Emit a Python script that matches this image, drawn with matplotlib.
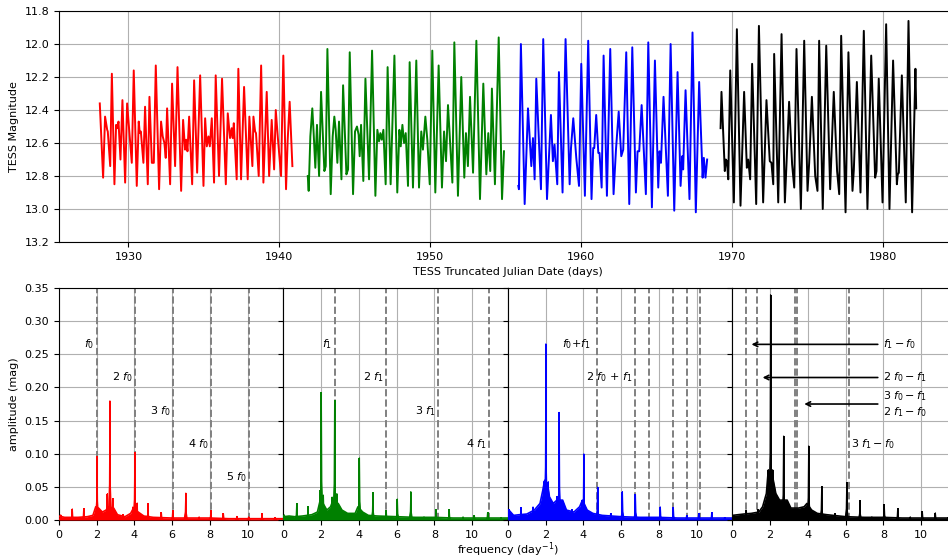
import numpy as np
import matplotlib.pyplot as plt

# ---- light curve: extrema ----
red_t = [1928.10, 1928.32, 1928.45, 1928.59, 1928.63, 1928.79, 1928.90, 1929.07, 1929.18, 1929.25,
         1929.34, 1929.47, 1929.60, 1929.78, 1929.91, 1930.22, 1930.35, 1930.55, 1930.68, 1930.75,
         1930.82, 1930.99, 1931.10, 1931.28, 1931.39, 1931.55, 1931.68, 1931.81, 1932.03, 1932.16,
         1932.27, 1932.38, 1932.47, 1932.56, 1932.76, 1932.89, 1933.09, 1933.25, 1933.49, 1933.62,
         1933.75, 1933.82, 1933.91, 1934.02, 1934.22, 1934.35, 1934.55, 1934.75, 1934.97, 1935.08,
         1935.19, 1935.30, 1935.39, 1935.52, 1935.67, 1935.78, 1936.00, 1936.20, 1936.45, 1936.58,
         1936.73, 1936.84, 1936.91, 1936.98, 1937.17, 1937.28, 1937.46, 1937.66, 1937.90, 1938.01,
         1938.21, 1938.28, 1938.39, 1938.45, 1938.63, 1938.79, 1938.94, 1939.16, 1939.32, 1939.49,
         1939.65, 1939.76, 1939.89, 1940.11, 1940.26, 1940.44, 1940.55, 1940.68, 1940.86]
red_m = [12.36, 12.81, 12.44, 12.52, 12.53, 12.74, 12.18, 12.85, 12.49, 12.51,
         12.47, 12.70, 12.34, 12.84, 12.36, 12.72, 12.16, 12.86, 12.47, 12.54,
         12.53, 12.72, 12.38, 12.85, 12.32, 12.72, 12.72, 12.13, 12.88, 12.47,
         12.56, 12.60, 12.69, 12.39, 12.85, 12.24, 12.74, 12.14, 12.89, 12.46,
         12.64, 12.58, 12.65, 12.44, 12.85, 12.22, 12.78, 12.19, 12.86, 12.45,
         12.62, 12.56, 12.62, 12.45, 12.84, 12.19, 12.80, 12.21, 12.85, 12.42,
         12.57, 12.51, 12.57, 12.48, 12.82, 12.15, 12.82, 12.26, 12.82, 12.44,
         12.74, 12.44, 12.53, 12.54, 12.80, 12.13, 12.84, 12.29, 12.80, 12.46,
         12.76, 12.40, 12.56, 12.80, 12.07, 12.88, 12.58, 12.35, 12.74]

green_t = [1941.88, 1941.94, 1942.05, 1942.18, 1942.27, 1942.38, 1942.49, 1942.63, 1942.76, 1942.98,
           1943.07, 1943.18, 1943.40, 1943.53, 1943.64, 1943.73, 1943.84, 1943.95, 1944.11, 1944.22,
           1944.44, 1944.55, 1944.66, 1944.88, 1945.01, 1945.14, 1945.25, 1945.32, 1945.41, 1945.56,
           1945.70, 1945.94, 1946.14, 1946.36, 1946.49, 1946.60, 1946.69, 1946.78, 1946.89, 1947.04,
           1947.17, 1947.37, 1947.62, 1947.81, 1947.95, 1948.04, 1948.15, 1948.26, 1948.37, 1948.52,
           1948.63, 1948.85, 1949.07, 1949.25, 1949.40, 1949.51, 1949.67, 1949.80, 1949.96, 1950.13,
           1950.33, 1950.55, 1950.77, 1950.91, 1951.04, 1951.17, 1951.46, 1951.59, 1951.83, 1952.05,
           1952.25, 1952.36, 1952.49, 1952.63, 1952.83, 1953.05, 1953.29, 1953.51, 1953.71, 1953.84,
           1953.97, 1954.08, 1954.28, 1954.53, 1954.75, 1954.88]
green_m = [12.80, 12.89, 12.56, 12.39, 12.54, 12.75, 12.49, 12.80, 12.29, 12.77,
           12.74, 12.03, 12.91, 12.56, 12.44, 12.52, 12.72, 12.47, 12.82, 12.25,
           12.79, 12.76, 12.05, 12.91, 12.53, 12.50, 12.55, 12.68, 12.49, 12.83,
           12.21, 12.82, 12.04, 12.92, 12.52, 12.59, 12.54, 12.58, 12.52, 12.85,
           12.14, 12.85, 12.07, 12.90, 12.52, 12.62, 12.49, 12.60, 12.54, 12.86,
           12.11, 12.87, 12.10, 12.87, 12.53, 12.64, 12.44, 12.58, 12.85, 12.04,
           12.90, 12.13, 12.87, 12.53, 12.71, 12.37, 12.84, 11.99, 12.92, 12.20,
           12.81, 12.54, 12.74, 12.32, 12.78, 11.98, 12.94, 12.24, 12.79, 12.54,
           12.77, 12.27, 12.85, 11.96, 12.94, 12.65]

blue_t = [1955.83, 1955.87, 1956.00, 1956.25, 1956.47, 1956.69, 1956.80, 1956.91, 1957.02, 1957.33,
          1957.48, 1957.73, 1957.99, 1958.12, 1958.23, 1958.30, 1958.41, 1958.52, 1958.76, 1958.96,
          1959.23, 1959.32, 1959.47, 1959.67, 1959.85, 1960.00, 1960.24, 1960.46, 1960.68, 1960.79,
          1960.86, 1960.99, 1961.13, 1961.21, 1961.35, 1961.48, 1961.70, 1961.92, 1962.14, 1962.30,
          1962.48, 1962.65, 1962.78, 1962.98, 1963.18, 1963.38, 1963.62, 1963.73, 1963.84, 1964.00,
          1964.28, 1964.44, 1964.68, 1964.88, 1965.10, 1965.19, 1965.28, 1965.45, 1965.74, 1965.92,
          1966.16, 1966.38, 1966.58, 1966.69, 1966.75, 1966.91, 1967.17, 1967.37, 1967.59, 1967.81,
          1968.04, 1968.12, 1968.23, 1968.34]
blue_m = [12.86, 12.88, 12.00, 12.97, 12.39, 12.74, 12.57, 12.82, 12.21, 12.88,
          11.97, 12.94, 12.43, 12.71, 12.61, 12.71, 12.85, 12.17, 12.90, 11.97,
          12.85, 12.63, 12.45, 12.69, 12.86, 12.12, 12.92, 11.98, 12.94, 12.63,
          12.63, 12.43, 12.66, 12.66, 12.87, 12.07, 12.92, 12.03, 12.91, 12.64,
          12.41, 12.68, 12.64, 12.05, 12.97, 12.02, 12.90, 12.65, 12.65, 12.37,
          12.91, 11.99, 12.99, 12.10, 12.87, 12.65, 12.72, 12.32, 12.92, 12.00,
          13.01, 12.17, 12.86, 12.68, 12.76, 12.28, 12.94, 11.93, 13.02, 12.23,
          12.81, 12.69, 12.81, 12.70]

black_t = [1969.23, 1969.29, 1969.51, 1969.58, 1969.65, 1969.74, 1969.87, 1970.11, 1970.31, 1970.55,
           1970.79, 1970.97, 1971.06, 1971.19, 1971.32, 1971.59, 1971.77, 1972.05, 1972.27, 1972.49,
           1972.60, 1972.72, 1972.78, 1973.05, 1973.27, 1973.49, 1973.77, 1973.97, 1974.11, 1974.26,
           1974.55, 1974.77, 1974.99, 1975.10, 1975.28, 1975.50, 1975.65, 1975.76, 1976.00, 1976.23,
           1976.49, 1976.73, 1976.95, 1977.09, 1977.22, 1977.51, 1977.70, 1977.97, 1978.06, 1978.26,
           1978.50, 1978.72, 1978.96, 1979.21, 1979.47, 1979.56, 1979.71, 1979.96, 1980.20, 1980.42,
           1980.66, 1980.91, 1980.97, 1981.04, 1981.24, 1981.50, 1981.68, 1981.92, 1982.14, 1982.19]
black_m = [12.51, 12.29, 12.77, 12.70, 12.71, 12.82, 12.16, 12.96, 11.91, 12.98,
           12.29, 12.75, 12.70, 12.82, 12.12, 12.97, 11.89, 12.96, 12.34, 12.71,
           12.72, 12.85, 12.06, 12.96, 11.94, 12.96, 12.35, 12.73, 12.87, 12.03,
           13.00, 11.98, 12.89, 12.72, 12.32, 12.80, 12.89, 11.98, 13.00, 12.01,
           12.88, 12.29, 12.77, 12.91, 11.95, 13.02, 12.05, 12.89, 12.76, 12.23,
           12.90, 11.92, 13.00, 12.07, 12.81, 12.77, 12.21, 12.96, 11.88, 13.00,
           12.10, 12.85, 12.79, 12.78, 12.19, 12.96, 11.86, 13.02, 12.15, 12.39]

# ---- periodograms: peaks and noise floor per sector (frequency in 1/day, amplitude in mag) ----
f0 = 2.015
f1 = 2.728

red_peak_f = [0.09, 0.71, 1.31, 2.02, 2.57, 2.70, 2.84, 3.40, 3.92, 4.02, 4.15, 4.72, 5.43, 6.03,
              6.72, 7.43, 8.05, 8.72, 9.43, 10.05, 10.76, 11.47]
red_peak_a = [0.008, 0.017, 0.018, 0.096, 0.040, 0.180, 0.033, 0.009, 0.020, 0.102, 0.026, 0.025,
              0.012, 0.015, 0.041, 0.005, 0.015, 0.010, 0.006, 0.005, 0.010, 0.004]
red_floor_f = [0.0, 0.3, 0.6, 1.0, 1.5, 1.8, 1.95, 2.1, 2.3, 2.5, 2.6, 2.9, 3.1, 3.5, 3.8, 3.95,
               4.2, 4.5, 5.0, 6.0, 7.0, 8.0, 9.0, 10.0, 11.0, 11.9]
red_floor_a = [0.006, 0.004, 0.004, 0.004, 0.005, 0.007, 0.020, 0.018, 0.012, 0.015, 0.020, 0.018,
               0.008, 0.005, 0.010, 0.018, 0.012, 0.006, 0.004, 0.003, 0.003, 0.003, 0.002, 0.002,
               0.002, 0.002]

green_peak_f = [0.05, 0.70, 1.30, 1.93, 2.01, 2.12, 2.58, 2.71, 2.83, 3.38, 4.03, 4.74, 5.45, 6.04,
                6.75, 7.45, 8.09, 8.79, 9.52, 10.12, 10.82, 11.53]
green_peak_a = [0.008, 0.025, 0.021, 0.045, 0.193, 0.038, 0.035, 0.181, 0.040, 0.010, 0.094, 0.042,
                0.015, 0.032, 0.043, 0.005, 0.016, 0.016, 0.005, 0.007, 0.012, 0.004]
green_floor_f = [0.0, 0.3, 0.6, 1.0, 1.5, 1.8, 1.95, 2.1, 2.3, 2.5, 2.6, 2.9, 3.1, 3.4, 3.8, 3.95,
                 4.2, 4.5, 5.0, 6.0, 7.0, 8.0, 9.0, 10.0, 11.0, 11.9]
green_floor_a = [0.005, 0.006, 0.005, 0.006, 0.008, 0.012, 0.030, 0.025, 0.015, 0.020, 0.028, 0.025,
                 0.015, 0.010, 0.010, 0.020, 0.012, 0.007, 0.006, 0.005, 0.004, 0.004, 0.003, 0.003,
                 0.003, 0.003]

blue_peak_f = [0.05, 0.69, 1.33, 1.89, 2.01, 2.14, 2.58, 2.72, 3.38, 3.95, 4.02, 4.75, 5.44, 6.07,
               6.76, 7.42, 8.08, 8.77, 9.47, 10.11, 10.80, 11.48]
blue_peak_a = [0.016, 0.019, 0.020, 0.058, 0.266, 0.058, 0.036, 0.163, 0.016, 0.030, 0.100, 0.050,
               0.010, 0.043, 0.039, 0.004, 0.020, 0.019, 0.007, 0.010, 0.012, 0.004]
blue_floor_f = [0.0, 0.05, 0.3, 0.6, 1.0, 1.4, 1.7, 1.85, 1.95, 2.1, 2.2, 2.4, 2.6, 2.9, 3.1, 3.5,
                3.8, 3.95, 4.2, 4.5, 5.0, 6.0, 7.0, 8.0, 9.0, 10.0, 11.0, 11.9]
blue_floor_a = [0.008, 0.015, 0.007, 0.008, 0.009, 0.015, 0.025, 0.045, 0.060, 0.055, 0.035, 0.025,
                0.030, 0.030, 0.015, 0.012, 0.020, 0.030, 0.015, 0.010, 0.007, 0.005, 0.004, 0.004,
                0.003, 0.003, 0.003, 0.003]

black_peak_f = [0.74, 1.37, 1.91, 2.02, 2.13, 2.71, 3.37, 4.04, 4.73, 5.44, 6.06, 6.76, 7.39, 8.05,
                8.76, 9.43, 10.07, 10.76, 11.45]
black_peak_a = [0.015, 0.016, 0.076, 0.340, 0.076, 0.127, 0.014, 0.112, 0.051, 0.010, 0.057, 0.030,
                0.005, 0.024, 0.018, 0.005, 0.013, 0.011, 0.004]
black_floor_f = [0.0, 0.3, 0.6, 1.0, 1.4, 1.6, 1.8, 1.9, 2.1, 2.3, 2.5, 2.9, 3.1, 3.5, 3.8, 3.95,
                 4.2, 4.5, 5.0, 6.0, 7.0, 8.0, 9.0, 10.0, 11.0, 11.9]
black_floor_a = [0.007, 0.008, 0.009, 0.010, 0.012, 0.020, 0.040, 0.075, 0.070, 0.040, 0.030, 0.030,
                 0.018, 0.018, 0.020, 0.025, 0.015, 0.010, 0.008, 0.005, 0.004, 0.004, 0.003, 0.003,
                 0.003, 0.003]

# combination frequencies marked in each panel
panel1_lines = [f0, 2 * f0, 3 * f0, 4 * f0, 5 * f0]
panel1_labels = ['$f_0$', '2 $f_0$', '3 $f_0$', '4 $f_0$', '5 $f_0$']
panel2_lines = [f1, 2 * f1, 3 * f1, 4 * f1]
panel2_labels = ['$f_1$', '2 $f_1$', '3 $f_1$', '4 $f_1$']
panel3_lines = [f0 + f1, 2 * f0 + f1, f0 + 2 * f1, 3 * f0 + f1, 2 * f0 + 2 * f1, f0 + 3 * f1]
panel3_labels = ['$f_0$+$f_1$', '2 $f_0$ + $f_1$']
panel4_lines = [f1 - f0, 2 * f0 - f1, 3 * f0 - f1, 2 * f1 - f0, 3 * f1 - f0]

plt.rcParams['font.size'] = 8

fig = plt.figure(figsize=(9.48, 5.57), dpi=100)

# top: light curve
ax_lc = fig.add_axes([0.0622, 0.5655, 0.9473, 0.4147])
for t, m, c in [(red_t, red_m, 'red'), (green_t, green_m, 'green'),
                (blue_t, blue_m, 'blue'), (black_t, black_m, 'black')]:
    ax_lc.plot(t, m, color=c, lw=1.4)
ax_lc.set_ylim(13.2, 11.8)
ax_lc.set_yticks(np.arange(11.8, 13.21, 0.2))
ax_lc.grid(True)
ax_lc.set_ylabel('TESS Magnitude')
ax_lc.set_xlabel('TESS Truncated Julian Date (days)')

# bottom: four periodograms side by side, shared amplitude axis
panel_w = 0.2368
axes = []
for i in range(4):
    ax = fig.add_axes([0.0622 + i * panel_w, 0.0664, panel_w, 0.4165],
                      sharey=axes[0] if axes else None)
    axes.append(ax)

spectra = [(red_floor_f, red_floor_a, red_peak_f, red_peak_a, 'red'),
           (green_floor_f, green_floor_a, green_peak_f, green_peak_a, 'green'),
           (blue_floor_f, blue_floor_a, blue_peak_f, blue_peak_a, 'blue'),
           (black_floor_f, black_floor_a, black_peak_f, black_peak_a, 'black')]

# peak profile shape (half widths in 1/day) - just a drawing style
base_w, mid_w = 0.09, 0.025

for ax, (ff, fa, pf, pa, c) in zip(axes, spectra):
    ax.fill_between(ff, 0, fa, color=c, lw=0, zorder=3)
    ax.plot(ff, fa, color=c, lw=1.2, zorder=3)
    for f, a in zip(pf, pa):
        ax.fill([f - base_w, f - mid_w, f, f + mid_w, f + base_w],
                [0, 0.3 * a, a, 0.3 * a, 0], color=c, lw=0.8, zorder=3)
    ax.vlines(pf, 0, pa, color=c, lw=1.4, zorder=3)
    ax.set_xlim(0, 11.9)
    ax.set_xticks(np.arange(0, 11, 2))
    ax.grid(True)

for ax in axes[1:]:
    ax.tick_params(labelleft=False)

axes[0].set_ylim(0, 0.35)
axes[0].set_yticks(np.arange(0, 0.351, 0.05))
axes[0].set_ylabel('amplitude (mag)')

for ax, lines in zip(axes, [panel1_lines, panel2_lines, panel3_lines, panel4_lines]):
    for x in lines:
        ax.axvline(x, color='gray', ls='--', lw=1.4, zorder=2)

# harmonic labels, stepping down the panel
for i, (x, lab) in enumerate(zip(panel1_lines, panel1_labels)):
    axes[0].text(x - 0.12, 0.265 - 0.05 * i, lab, ha='right', va='center')
for i, (x, lab) in enumerate(zip(panel2_lines, panel2_labels)):
    axes[1].text(x - 0.12, 0.265 - 0.05 * i, lab, ha='right', va='center')
axes[2].text(4.36, 0.265, panel3_labels[0], ha='right', va='center')
axes[2].text(6.58, 0.215, panel3_labels[1], ha='right', va='center')

# difference frequencies pointed to with arrows
arrow = dict(arrowstyle='->', color='black', lw=1.2)
axes[3].annotate('$f_1 - f_0$', xy=(panel4_lines[0] + 0.15, 0.265), xytext=(8.0, 0.265),
                 va='center', arrowprops=arrow)
axes[3].annotate('2 $f_0 - f_1$', xy=(panel4_lines[1] + 0.15, 0.215), xytext=(8.0, 0.215),
                 va='center', arrowprops=arrow)
axes[3].annotate('3 $f_0 - f_1$\n2 $f_1 - f_0$', xy=(panel4_lines[3] + 0.22, 0.175),
                 xytext=(8.0, 0.175), va='center', arrowprops=arrow)
axes[3].text(6.29, 0.115, '3 $f_1 - f_0$', va='center')

fig.text(0.536, 0.014, 'frequency (day$^{-1}$)', ha='center', va='center')

fig.savefig('out.png', dpi=100)
